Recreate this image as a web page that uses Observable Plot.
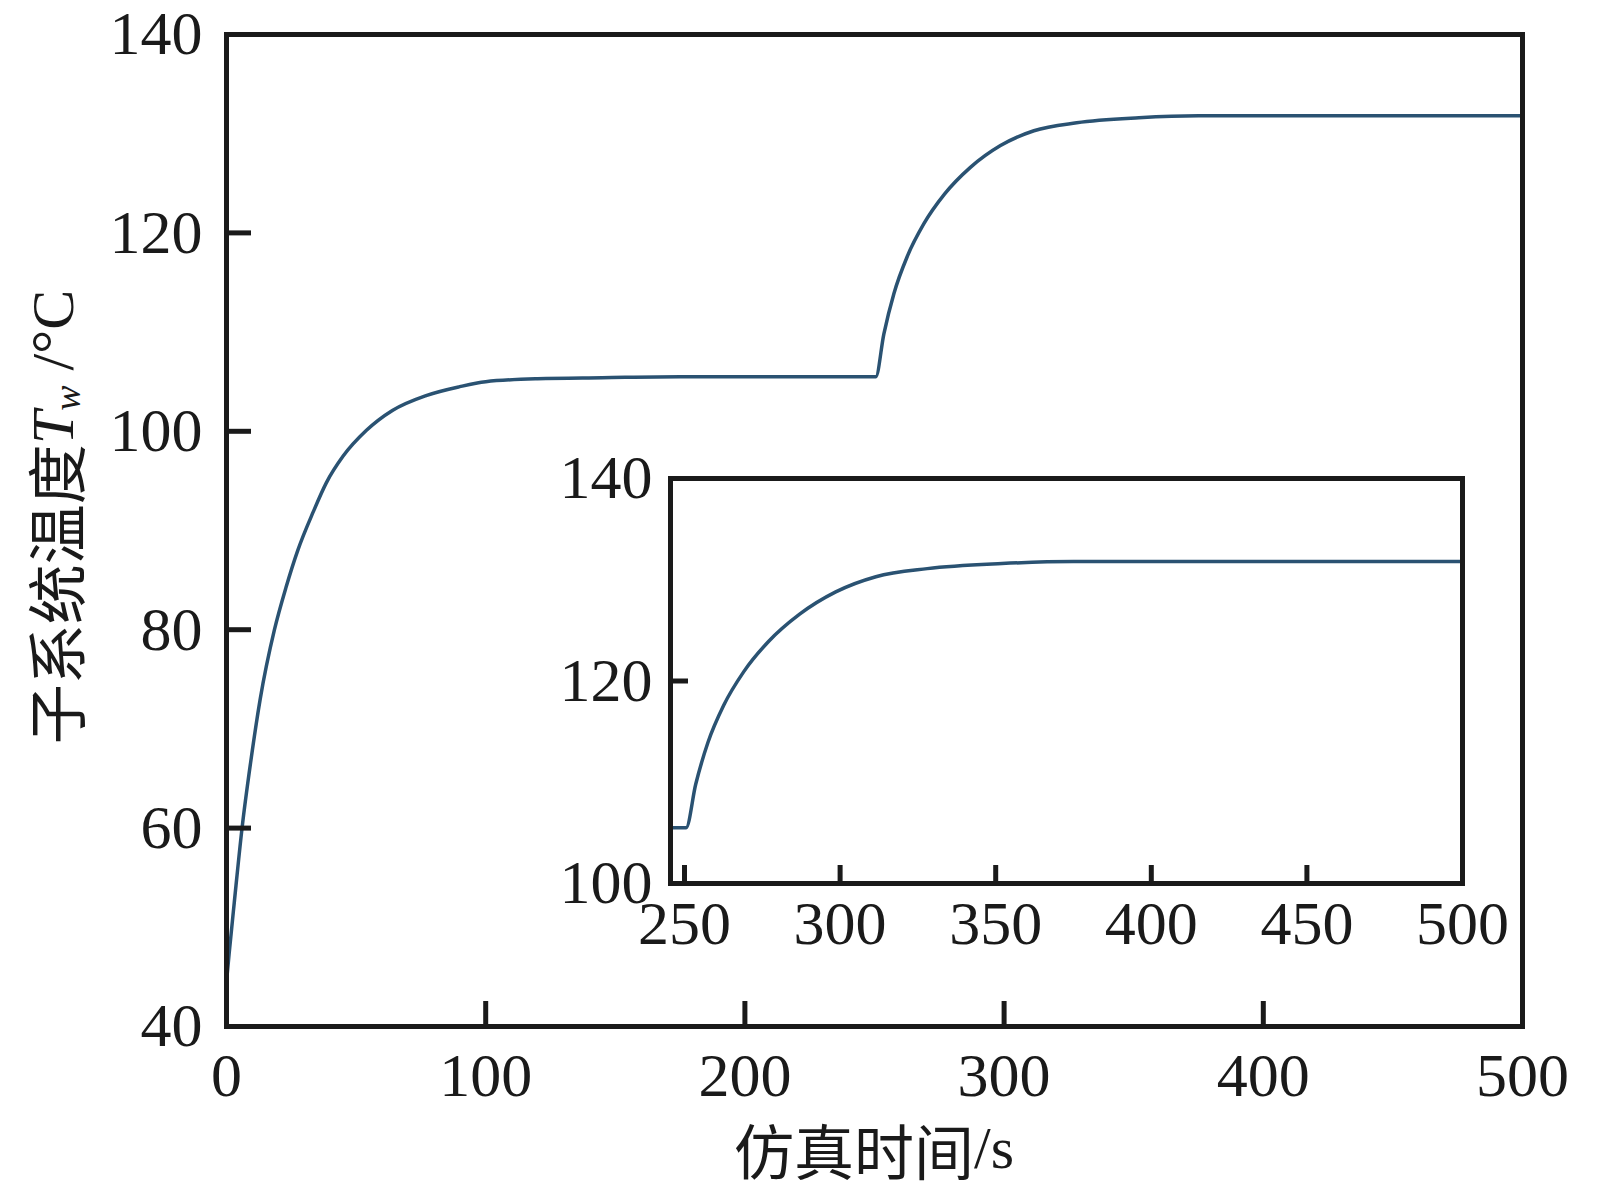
<!DOCTYPE html>
<html>
<head>
<meta charset="utf-8">
<script src="https://cdn.jsdelivr.net/npm/d3@7"></script>
<script src="https://cdn.jsdelivr.net/npm/@observablehq/plot@0.6"></script>
<style>
  body { margin: 0; background: white; }
  #chart { position: relative; width: 1600px; height: 1192px; }
  #inset { position: absolute; left: 540px; top: 440px; }
</style>
</head>
<body>
<div id="chart"><div id="inset"></div></div>
<script>
// simulation time (s) and subsystem temperature (°C)
const time = [0, 1, 3, 6, 9.3, 13, 18.5, 23, 27.5, 33.5, 38.5, 45, 54, 64, 77, 90, 100, 120, 145, 175, 200, 230,
  250.5, 253.6, 257.5, 262.6, 269, 277, 287, 298.6, 311.5, 328, 352, 375, 400, 450, 500];
const temp = [44.5, 47.3, 52.5, 60, 66.6, 73, 80, 84.3, 88, 91.9, 94.8, 97.5, 100.1, 102.1, 103.6, 104.5, 105, 105.3, 105.4, 105.5, 105.5, 105.5,
  105.5, 109.8, 113.9, 117.6, 120.9, 123.9, 126.6, 128.8, 130.3, 131.1, 131.6, 131.8, 131.8, 131.8, 131.8];

const mainXTicks = [0, 100, 200, 300, 400, 500];
const mainYTicks = [40, 60, 80, 100, 120, 140];
const insetXTicks = [250, 300, 350, 400, 450, 500];
const insetYTicks = [100, 120, 140];

const data = time.map((t, i) => ({t, v: temp[i]}));

const ink = "#1a1a1a";
const lineColor = "#2a5272";
const serif = "Liberation Serif";

// main chart: frame 226..1522 x 34..1026
const mw = 1600 - 226 - 78, mh = 1192 - 34 - 166;
const main = Plot.plot({
  width: 1600,
  height: 1192,
  marginLeft: 226, marginRight: 78, marginTop: 34, marginBottom: 166,
  style: {fontFamily: serif, fontSize: "62px", color: ink, background: "white"},
  x: {domain: [0, 500]},
  y: {domain: [40, 140]},
  marks: [
    Plot.line(data, {x: "t", y: "v", stroke: lineColor, strokeWidth: 3.5, curve: "monotone-x"}),
    Plot.tickX(mainXTicks, {x: d => d, insetTop: mh - 25, stroke: ink, strokeWidth: 5}),
    Plot.tickY(mainYTicks, {y: d => d, insetRight: mw - 25, stroke: ink, strokeWidth: 5}),
    Plot.frame({stroke: ink, strokeWidth: 5}),
    Plot.axisX(mainXTicks, {tickSize: 0, tickPadding: 25, label: null, fontSize: 62}),
    Plot.axisY(mainYTicks, {tickSize: 0, tickPadding: 24, label: null, fontSize: 62})
  ]
});
document.querySelector("#chart").prepend(main);

const svg = d3.select(main);
const yTitle = svg.append("text")
  .attr("transform", "translate(53,517) rotate(-90)")
  .attr("text-anchor", "middle")
  .attr("dominant-baseline", "central")
  .style("font-size", "60px")
  .style("fill", ink);
yTitle.append("tspan").style("font-family", "Noto Sans CJK SC").text("子系统温度");
yTitle.append("tspan").style("font-family", serif).style("font-style", "italic").text("T");
yTitle.append("tspan").style("font-family", serif).style("font-style", "italic")
  .style("font-size", "38px").attr("dy", 14).text("w");
yTitle.append("tspan").style("font-family", serif).attr("dy", -14).text(" /°C");

const xTitle = svg.append("text")
  .attr("x", 874).attr("y", 1148)
  .attr("text-anchor", "middle")
  .attr("dominant-baseline", "central")
  .style("font-size", "60px")
  .style("fill", ink);
xTitle.append("tspan").style("font-family", "Noto Sans CJK SC").text("仿真时间");
xTitle.append("tspan").style("font-family", serif).text("/s");

// inset: frame 670..1462 x 478..883
const iw = 1000 - 130 - 78, ih = 540 - 38 - 97;
const inset = Plot.plot({
  width: 1000,
  height: 540,
  marginLeft: 130, marginRight: 78, marginTop: 38, marginBottom: 97,
  style: {fontFamily: serif, fontSize: "62px", color: ink, background: "transparent"},
  x: {domain: [245.5, 500]},
  y: {domain: [100, 140]},
  marks: [
    Plot.line(data.filter(d => d.t >= 230), {x: "t", y: "v", stroke: lineColor, strokeWidth: 3.5, curve: "monotone-x", clip: true}),
    Plot.tickX(insetXTicks, {x: d => d, insetTop: ih - 18, stroke: ink, strokeWidth: 5}),
    Plot.tickY(insetYTicks, {y: d => d, insetRight: iw - 18, stroke: ink, strokeWidth: 5}),
    Plot.frame({stroke: ink, strokeWidth: 5}),
    Plot.axisX(insetXTicks, {tickSize: 0, tickPadding: 16, label: null, fontSize: 62}),
    Plot.axisY(insetYTicks, {tickSize: 0, tickPadding: 18, label: null, fontSize: 62})
  ]
});
document.querySelector("#inset").append(inset);
</script>
</body>
</html>
